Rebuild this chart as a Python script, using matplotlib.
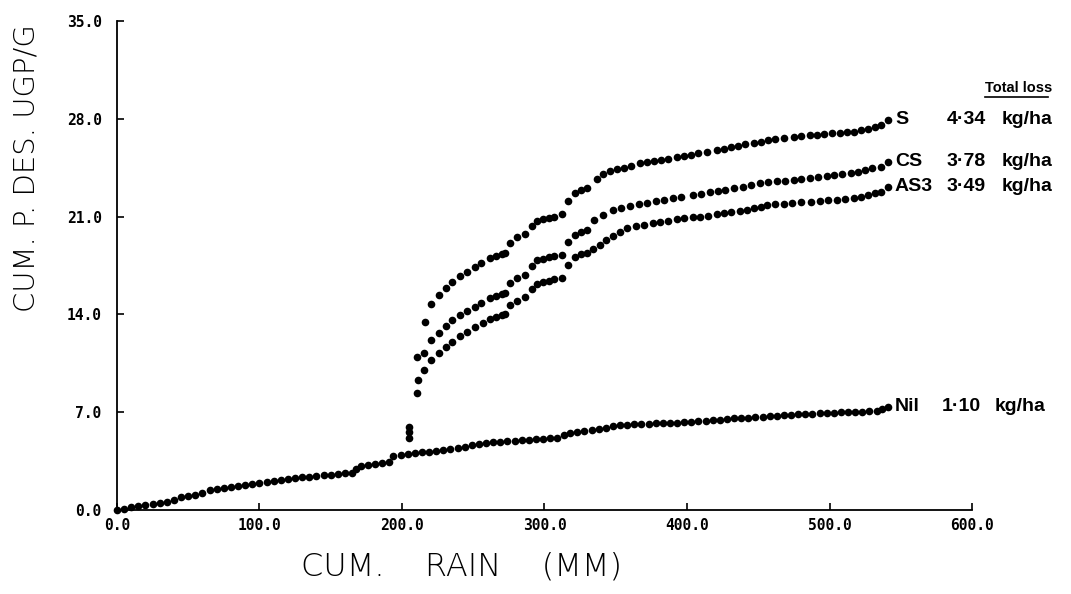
import matplotlib
matplotlib.use('Agg')
import matplotlib.pyplot as plt
from matplotlib.lines import Line2D

# values (cumulative rain in mm, cumulative P in ug P/g)
nil_rain = [0, 5, 10, 15, 20, 25, 30, 35, 40, 45, 50, 55, 60, 65, 70, 75, 80, 85, 90, 95,
            100, 105, 110, 115, 120, 125, 130, 135, 140, 145, 150, 155, 160, 165, 168, 171,
            176, 181, 186, 191, 194, 199, 204, 209, 214, 219, 224, 229, 234, 239, 244, 249,
            254, 259, 264, 269, 274, 279, 284, 289, 294, 299, 304, 309, 314, 318, 323, 328,
            333, 338, 343, 348, 353, 358, 363, 368, 373, 378, 383, 388, 393, 398, 403, 408,
            413, 418, 423, 428, 433, 438, 443, 448, 453, 458, 463, 468, 473, 478, 483, 488,
            493, 498, 503, 508, 513, 518, 523, 528, 533, 537, 541]
nil_p = [0.0, 0.08, 0.18, 0.28, 0.36, 0.44, 0.52, 0.6, 0.7, 0.9, 1.0, 1.1, 1.2, 1.42, 1.5,
         1.56, 1.62, 1.7, 1.78, 1.85, 1.93, 2.0, 2.06, 2.13, 2.2, 2.27, 2.33, 2.38, 2.43, 2.48,
         2.52, 2.57, 2.62, 2.68, 2.9, 3.15, 3.25, 3.32, 3.38, 3.45, 3.85, 3.95, 4.02, 4.08,
         4.13, 4.18, 4.23, 4.28, 4.36, 4.45, 4.54, 4.63, 4.71, 4.78, 4.84, 4.89, 4.93, 4.96,
         4.99, 5.02, 5.06, 5.09, 5.13, 5.17, 5.35, 5.5, 5.58, 5.66, 5.74, 5.82, 5.9, 5.98,
         6.05, 6.1, 6.13, 6.16, 6.18, 6.2, 6.22, 6.24, 6.26, 6.29, 6.32, 6.35, 6.39, 6.43,
         6.47, 6.51, 6.55, 6.58, 6.61, 6.65, 6.69, 6.73, 6.76, 6.8, 6.83, 6.86, 6.88, 6.9,
         6.92, 6.94, 6.96, 6.98, 6.99, 7.0, 7.02, 7.06, 7.12, 7.2, 7.4]

s_rain = [205, 210.7, 215.9, 220.6, 226, 230.7, 235.4, 240.5, 245.6, 251.1, 255.7, 261.6,
          266, 270, 272.2, 275.7, 280.4, 286.2, 290.9, 294.4, 299, 303, 307, 312, 316.2,
          321.4, 325.5, 329.6, 336.6, 341, 346, 351, 356, 361, 367, 372, 377, 382, 387, 393,
          398, 403, 408, 414, 421, 426, 431, 436, 441, 447, 452, 457, 462, 468, 475, 480,
          486, 491, 496, 502, 507, 512, 517, 522, 527, 532, 536, 541]
s_p = [5.95, 10.97, 13.48, 14.75, 15.39, 15.91, 16.3, 16.77, 17.06, 17.42, 17.7, 18.01,
       18.15, 18.3, 18.42, 19.13, 19.57, 19.76, 20.33, 20.69, 20.8, 20.9, 21.0, 21.19, 22.14,
       22.7, 22.9, 23.03, 23.67, 24.05, 24.25, 24.39, 24.5, 24.65, 24.82, 24.9, 24.98, 25.06,
       25.15, 25.25, 25.33, 25.42, 25.52, 25.63, 25.77, 25.86, 25.96, 26.06, 26.17, 26.29,
       26.37, 26.45, 26.53, 26.62, 26.72, 26.77, 26.82, 26.87, 26.92, 26.97, 27.0, 27.04,
       27.08, 27.17, 27.3, 27.45, 27.56, 27.95]

cs_rain = [205, 211.5, 215.4, 220.6, 226, 230.7, 235.4, 240.5, 245.6, 251.1, 255.7, 261.6,
           266, 270, 272.2, 275.7, 280.4, 286.2, 290.9, 294.4, 299, 303, 307, 312, 316.2,
           321.4, 325.5, 329.6, 335, 341, 348, 354, 360, 366, 372, 378, 384, 390, 396, 404,
           410, 416, 422, 427, 433, 439, 445, 451, 457, 463, 469, 475, 480, 486, 492, 498,
           503, 509, 515, 520, 525, 530, 536, 541]
cs_p = [5.6, 9.31, 11.26, 12.17, 12.69, 13.17, 13.6, 13.96, 14.27, 14.56, 14.84, 15.15,
        15.3, 15.45, 15.56, 16.27, 16.58, 16.82, 17.47, 17.9, 18.0, 18.08, 18.16, 18.25,
        19.21, 19.69, 19.9, 20.04, 20.76, 21.12, 21.47, 21.6, 21.75, 21.88, 21.98, 22.1, 22.2,
        22.3, 22.4, 22.55, 22.65, 22.75, 22.85, 22.93, 23.03, 23.15, 23.27, 23.39, 23.45,
        23.52, 23.58, 23.63, 23.67, 23.74, 23.82, 23.9, 23.96, 24.03, 24.1, 24.2, 24.32,
        24.45, 24.57, 24.93]

as3_rain = [205, 210.7, 215.4, 220.6, 226, 230.7, 235.4, 240.5, 245.6, 251.1, 256.9, 261.6,
            266, 270, 272.2, 275.7, 280.4, 286.2, 290.9, 294.4, 299, 303, 307, 312, 316.2,
            321.4, 325.5, 329.6, 334, 339, 343, 348, 353, 358, 364, 370, 376, 381, 387, 393,
            398, 404, 409, 415, 421, 426, 431, 437, 442, 447, 452, 456, 462, 468, 474, 480,
            487, 493, 499, 505, 511, 517, 522, 527, 532, 536, 541]
as3_p = [5.15, 8.35, 10.02, 10.74, 11.26, 11.69, 12.05, 12.46, 12.76, 13.12, 13.41, 13.65,
         13.8, 13.93, 14.03, 14.67, 14.98, 15.22, 15.82, 16.18, 16.3, 16.4, 16.5, 16.58,
         17.54, 18.09, 18.3, 18.42, 18.7, 19.0, 19.3, 19.6, 19.9, 20.16, 20.3, 20.42, 20.54,
         20.64, 20.72, 20.8, 20.87, 20.94, 21.0, 21.08, 21.16, 21.24, 21.32, 21.4, 21.47,
         21.6, 21.72, 21.83, 21.88, 21.93, 21.98, 22.02, 22.07, 22.12, 22.17, 22.21, 22.26,
         22.31, 22.4, 22.52, 22.66, 22.79, 23.14]

treatments = ['S', 'CS', 'AS3', 'Nil']
total_loss = ['4\u00b734', '3\u00b778', '3\u00b749', '1\u00b710']

x_ticks = [0, 100, 200, 300, 400, 500, 600]
y_ticks = [0, 7, 14, 21, 28, 35]

fig = plt.figure(figsize=(10.71, 5.94), dpi=100)
ax = fig.add_axes([0.1092, 0.1414, 0.7984, 0.8232])

for xs, ys in [(nil_rain, nil_p), (s_rain, s_p), (cs_rain, cs_p), (as3_rain, as3_p)]:
    ax.plot(xs, ys, linestyle='none', marker='o', markersize=5.5, color='black',
            markeredgewidth=0, clip_on=False)

ax.set_xlim(0, 600)
ax.set_ylim(0, 35)
ax.spines['top'].set_visible(False)
ax.spines['right'].set_visible(False)
ax.spines['left'].set_linewidth(1.3)
ax.spines['bottom'].set_linewidth(1.3)

ax.set_xticks(x_ticks)
ax.set_xticklabels(['%.1f' % v for v in x_ticks])
ax.set_yticks(y_ticks)
ax.set_yticklabels(['%.1f' % v for v in y_ticks])
ax.tick_params(direction='in', length=5, width=1.2)
ax.tick_params(axis='y', pad=11)
ax.tick_params(axis='x', pad=6)
for lab in ax.get_xticklabels() + ax.get_yticklabels():
    lab.set_family('DejaVu Sans Mono')
    lab.set_fontweight('bold')
    lab.set_fontsize(10.5)

ax.set_xlabel('CUM.    RAIN    (MM)', fontsize=23, family='DejaVu Sans',
              fontweight='light')
ax.xaxis.set_label_coords(0.403, -0.085)
ax.set_ylabel('CUM. P. DES. UGP/G', fontsize=21, family='DejaVu Sans',
              fontweight='light')
ax.yaxis.set_label_coords(-0.089, 0.7)

# end-of-curve labels
ends = [(s_rain[-1], s_p[-1]), (cs_rain[-1], cs_p[-1]), (as3_rain[-1], as3_p[-1]),
        (nil_rain[-1], nil_p[-1])]
val_off = [0.0, 0.0, 0.0, -3.0]
unit_off = [0.0, 0.0, 0.0, -5.0]
for (xe, ye), name, tot, vo, uo in zip(ends, treatments, total_loss, val_off, unit_off):
    kw = dict(fontsize=14, fontweight='bold', family='Liberation Sans',
              va='center', ha='left', clip_on=False)
    ax.annotate(name, (xe, ye), xytext=(5, 0), textcoords='offset points', **kw)
    ax.annotate(tot, (xe, ye), xytext=(42 + vo, 0), textcoords='offset points', **kw)
    ax.annotate('kg/ha', (xe, ye), xytext=(82 + uo, 0), textcoords='offset points', **kw)

fig.text(985 / 1071, 1 - 88 / 594, 'Total loss', fontsize=10.5, fontweight='bold',
         family='Liberation Sans', va='center', ha='left')
fig.add_artist(Line2D([985 / 1071, 1048 / 1071], [1 - 97 / 594, 1 - 97 / 594],
                      color='black', linewidth=1.2))

fig.savefig('out.png', dpi=100)
